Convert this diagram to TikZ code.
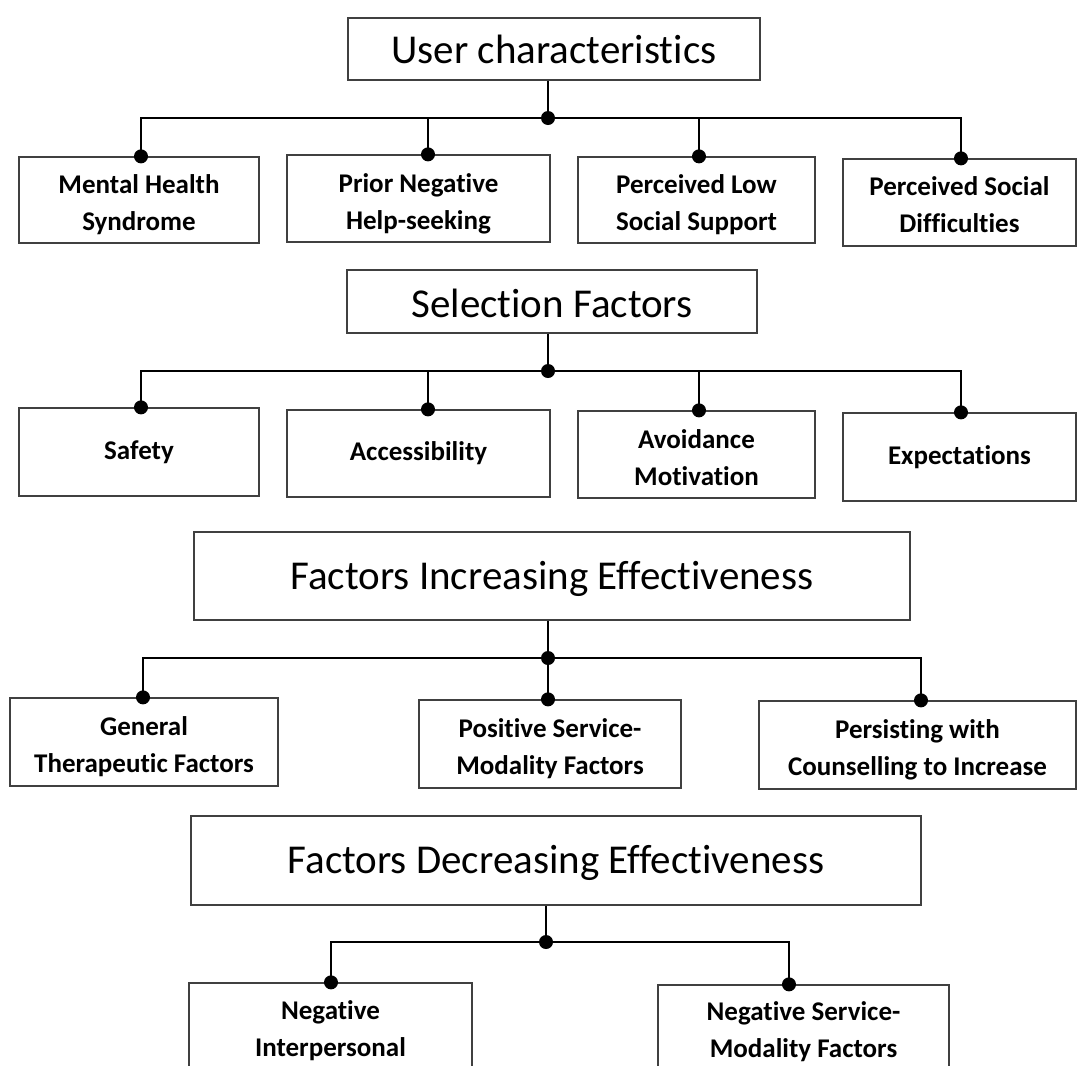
\documentclass[tikz,border=0pt]{standalone}
\usepackage{fontspec}
\setmainfont{Carlito}[RawFeature=-liga]
\newcommand\mkbox[7]{\node[#1, minimum width={#5-#3}, minimum height={#6-#4}] (#2) at ({(#3+#5)/2},{(#4+#6)/2}) {#7};}
\newcommand\lo{\rule{0pt}{28pt}}
\begin{document}
\begin{tikzpicture}[x=1pt,y=-1pt,
  hdr/.style={draw=black!75, line width=1.3pt, fill=white, font=\fontsize{41}{46}\selectfont, inner sep=0pt},
  kid/.style={draw=black!75, line width=1.3pt, fill=white, font=\fontsize{27}{37}\selectfont\bfseries, align=center, inner sep=0pt},
  conn/.style={line width=2.8pt, black},
  jdot/.style={fill=black}]
\useasboundingbox (0,0) rectangle (1077,1066);
\clip (0,0) rectangle (1077,1066);
\fill[white] (0,0) rectangle (1077,1066);

% Row 1
\mkbox{hdr}{h1}{348}{18}{760}{80}{User characteristics}
\mkbox{kid}{a1}{19}{157}{259}{243}{\lo Mental Health\\Syndrome}
\mkbox{kid}{a2}{287}{155}{550}{242}{\rule{0pt}{30pt}Prior Negative\\Help-seeking}
\mkbox{kid}{a3}{578}{157}{815}{243}{\lo Perceived Low\\Social Support}
\mkbox{kid}{a4}{843}{159}{1076}{246}{\rule{0pt}{23pt}Perceived Social\\Difficulties}
\coordinate (j1) at (548,118);
\draw[conn] (h1.south -| j1) -- (j1);
\draw[conn] (j1) -| ([xshift=2pt]a1.north);
\draw[conn] (j1) -| ([xshift=9.5pt]a2.north);
\draw[conn] (j1) -| ([xshift=2.5pt]a3.north);
\draw[conn] (j1) -| ([xshift=1.5pt]a4.north);
\fill[jdot] (j1) circle (7pt);
\fill[jdot] ([xshift=2pt]a1.north) circle (7pt);
\fill[jdot] ([xshift=9.5pt]a2.north) circle (7pt);
\fill[jdot] ([xshift=2.5pt]a3.north) circle (7pt);
\fill[jdot] ([xshift=1.5pt]a4.north) circle (7pt);

% Row 2
\mkbox{hdr}{h2}{347}{270}{757}{333}{\rule{0pt}{33pt}Selection Factors}
\mkbox{kid}{b1}{19}{408}{259}{496}{Safety}
\mkbox{kid}{b2}{287}{410}{550}{497}{Accessibility}
\mkbox{kid}{b3}{578}{411}{815}{498}{\rule{0pt}{26pt}Avoidance\\Motivation}
\mkbox{kid}{b4}{843}{413}{1076}{501}{Expectations}
\coordinate (j2) at (548,371);
\draw[conn] (h2.south -| j2) -- (j2);
\draw[conn] (j2) -| ([xshift=2pt]b1.north);
\draw[conn] (j2) -| ([xshift=9.5pt]b2.north);
\draw[conn] (j2) -| ([xshift=2.5pt]b3.north);
\draw[conn] (j2) -| ([xshift=1.5pt]b4.north);
\fill[jdot] (j2) circle (7pt);
\fill[jdot] ([xshift=2pt]b1.north) circle (7pt);
\fill[jdot] ([xshift=9.5pt]b2.north) circle (7pt);
\fill[jdot] ([xshift=2.5pt]b3.north) circle (7pt);
\fill[jdot] ([xshift=1.5pt]b4.north) circle (7pt);

% Row 3
\mkbox{hdr}{h3}{194}{532}{910}{620}{\rule{0pt}{35pt}Factors Increasing Effectiveness}
\mkbox{kid}{c1}{10}{698}{278}{786}{\lo General\\Therapeutic Factors}
\mkbox{kid}{c2}{419}{700}{681}{788}{\lo Positive Service-\\Modality Factors}
\mkbox{kid}{c3}{759}{701}{1076}{789}{\lo Persisting with\\Counselling to Increase}
\coordinate (j3) at (548,658);
\draw[conn] (h3.south -| j3) -- (j3);
\draw[conn] (j3) -| ([xshift=-1pt]c1.north);
\draw[conn] (j3) -- (c2.north -| j3);
\draw[conn] (j3) -| ([xshift=3.5pt]c3.north);
\fill[jdot] (j3) circle (7pt);
\fill[jdot] ([xshift=-1pt]c1.north) circle (7pt);
\fill[jdot] (c2.north -| j3) circle (7pt);
\fill[jdot] ([xshift=3.5pt]c3.north) circle (7pt);

% Row 4
\mkbox{hdr}{h4}{191}{816}{921}{905}{\rule{0pt}{34pt}Factors Decreasing Effectiveness}
\mkbox{kid}{d1}{189}{983}{472}{1078}{Negative\\Interpersonal}
\mkbox{kid}{d2}{658}{985}{949}{1078}{Negative Service-\\Modality Factors}
\coordinate (j4) at (546,942);
\draw[conn] (h4.south -| j4) -- (j4);
\draw[conn] (j4) -| ([xshift=0.5pt]d1.north);
\draw[conn] (j4) -| ([xshift=-14.5pt]d2.north);
\fill[jdot] (j4) circle (7pt);
\fill[jdot] ([xshift=0.5pt]d1.north) circle (7pt);
\fill[jdot] ([xshift=-14.5pt]d2.north) circle (7pt);
\end{tikzpicture}
\end{document}
